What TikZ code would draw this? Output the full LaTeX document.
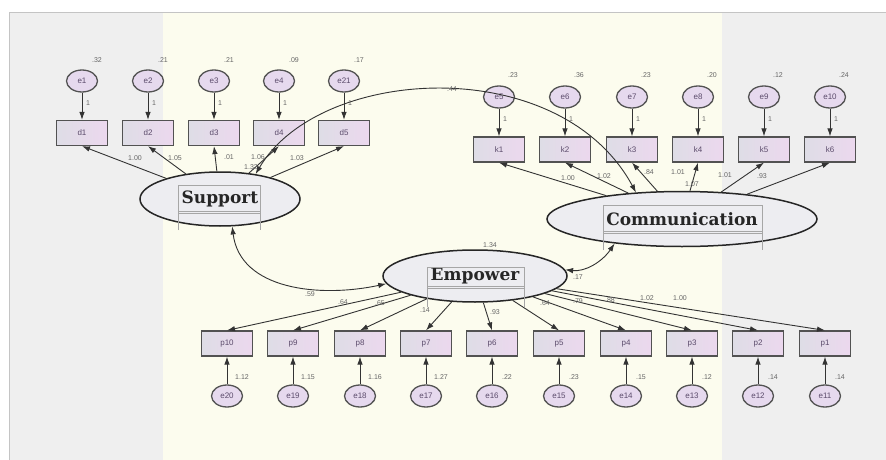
\documentclass[tikz,border=0pt]{standalone}
\usepackage{fontspec}
\setsansfont{Liberation Sans}
\newfontfamily\latfont{DejaVu Serif}
\usetikzlibrary{shapes.geometric,arrows.meta}
\definecolor{panelgray}{HTML}{EFEFEF}
\definecolor{cream}{HTML}{FCFCEE}
\definecolor{framegray}{HTML}{C4C4C4}
\definecolor{boxL}{HTML}{DEDDE6}
\definecolor{boxR}{HTML}{ECD8EE}
\definecolor{errfill}{HTML}{E6D9EE}
\definecolor{latfill}{HTML}{EDEDF1}
\definecolor{ink}{HTML}{333333}
\definecolor{namecol}{HTML}{5B4B6B}
\definecolor{numcol}{HTML}{666666}

\begin{document}
\begin{tikzpicture}[x=1pt,y=-1pt,
  obs/.style={rectangle, draw=ink!85, line width=1.2pt, left color=boxL, right color=boxR,
    minimum width=51pt, minimum height=25pt, inner sep=0pt,
    font=\sffamily\fontsize{8}{9}\selectfont, text=namecol},
  err/.style={ellipse, draw=ink!85, line width=1.3pt, fill=errfill,
    minimum width=31pt, minimum height=22pt, inner sep=0pt,
    font=\sffamily\fontsize{8}{9}\selectfont, text=namecol},
  lat/.style={ellipse, draw=black!85, line width=1.5pt, fill=latfill, inner sep=0pt,
    font=\latfont\bfseries\fontsize{17}{18}\selectfont, text=black!85},
  num/.style={font=\sffamily\fontsize{7}{8}\selectfont, text=numcol, inner sep=0pt},
  conn/.style={draw=ink, line width=0.9pt, -{Latex[length=8pt,width=5.5pt]}},
  cov/.style={draw=ink, line width=0.9pt, {Latex[length=8pt,width=5.5pt]}-{Latex[length=8pt,width=5.5pt]}},
  tag/.style={draw=gray!70, line width=0.6pt}
]
\useasboundingbox (0,0) rectangle (886,460);

% canvas panels and frame
\fill[white] (0,0) rectangle (886,460);
\fill[panelgray] (10,13) rectangle (886,460);
\fill[cream] (163,13) rectangle (722,460);
\draw[framegray, line width=1.5pt] (9.5,460) -- (9.5,12.5) -- (886,12.5);

% latent variables
\node[lat, minimum width=160pt, minimum height=54pt] (sup) at (220,199) {Support};
\node[lat, minimum width=270pt, minimum height=55pt] (com) at (682,219) {Communication};
\node[lat, minimum width=184pt, minimum height=52pt] (emp) at (475,276) {Empower};

% name tags inside the latent ellipses
\draw[tag] (178,230) -- (178,185) -- (260,185) -- (260,230);
\draw[tag] (178,211) -- (260,211) (178,213.5) -- (260,213.5);
\draw[tag] (603,250) -- (603,205) -- (762,205) -- (762,250);
\draw[tag] (603,231) -- (762,231) (603,233.5) -- (762,233.5);
\draw[tag] (427,307) -- (427,267) -- (524,267) -- (524,307);
\draw[tag] (427,286) -- (524,286) (427,288.5) -- (524,288.5);

% Support indicators
\foreach \i/\e/\x/\v in {1/e1/82/.32, 2/e2/148/.21, 3/e3/214/.21, 4/e4/279/.09, 5/e21/344/.17} {
  \node[err] (\e) at (\x,81) {\e};
  \node[obs] (d\i) at (\x,133) {d\i};
  \node[num] (v\e) at (\x+15,60) {\v};
  \draw[conn] (\e) -- (d\i);
  \node[num] (one\e) at (\x+6,103) {1};
  \draw[conn] (sup) -- (d\i.south);
}

% Communication indicators
\foreach \i/\e/\x/\v in {1/e5/499/.23, 2/e6/565/.36, 3/e7/632/.23, 4/e8/698/.20, 5/e9/764/.12, 6/e10/830/.24} {
  \node[err] (\e) at (\x,97) {\e};
  \node[obs] (k\i) at (\x,149.5) {k\i};
  \node[num] (v\e) at (\x+14,75) {\v};
  \draw[conn] (\e) -- (k\i);
  \node[num] (one\e) at (\x+6,119) {1};
  \draw[conn] (com) -- (k\i.south);
}

% Empower indicators
\foreach \i/\e/\x/\v in {10/e20/227/1.12, 9/e19/293/1.15, 8/e18/360/1.16, 7/e17/426/1.27,
    6/e16/492/.22, 5/e15/559/.23, 4/e14/626/.15, 3/e13/692/.12, 2/e12/758/.14, 1/e11/825/.14} {
  \node[obs] (p\i) at (\x,343.5) {p\i};
  \node[err] (\e) at (\x,396) {\e};
  \node[num] (v\e) at (\x+15,377) {\v};
  \draw[conn] (\e) -- (p\i);
  \draw[conn] (emp) -- (p\i.north);
}

% covariances
\draw[cov] (sup.35) .. controls (320,65) and (560,52) .. (com.150);
\draw[cov] (sup.-66) .. controls (240,290) and (320,298) .. (emp.185);
\draw[cov] (emp.4) .. controls (585,272) and (602,262) .. (com.200);

% estimates: Support
\node[num] (ld1) at (135,158) {1.00};
\node[num] (ld2) at (175,158) {1.05};
\node[num] (ld3) at (229,157) {.01};
\node[num] (ld4) at (258,157) {1.06};
\node[num] (ld5) at (297,158) {1.03};
\node[num] (vsup) at (251,167) {1.32};

% estimates: Communication
\node[num] (lk1) at (568,178) {1.00};
\node[num] (lk2) at (604,176) {1.02};
\node[num] (lk3) at (649,172) {.84};
\node[num] (lk4) at (678,172) {1.01};
\node[num] (lk5) at (725,175) {1.01};
\node[num] (lk6) at (762,176) {.93};
\node[num] (vcom) at (692,184) {1.07};

% estimates: Empower
\node[num] (lp10) at (310,294) {.59};
\node[num] (lp9) at (343,302) {.64};
\node[num] (lp8) at (380,303) {.65};
\node[num] (lp7) at (425,310) {.14};
\node[num] (lp6) at (495,312) {.93};
\node[num] (lp5) at (545,303) {.64};
\node[num] (lp4) at (578,301) {.79};
\node[num] (lp3) at (610,300) {.88};
\node[num] (lp2) at (647,298) {1.02};
\node[num] (lp1) at (680,298) {1.00};
\node[num] (vemp) at (490,245) {1.34};

% covariance estimates
\node[num] (csc) at (452,89) {.44};
\node[num] (cec) at (578,277) {.17};
\end{tikzpicture}
\end{document}
